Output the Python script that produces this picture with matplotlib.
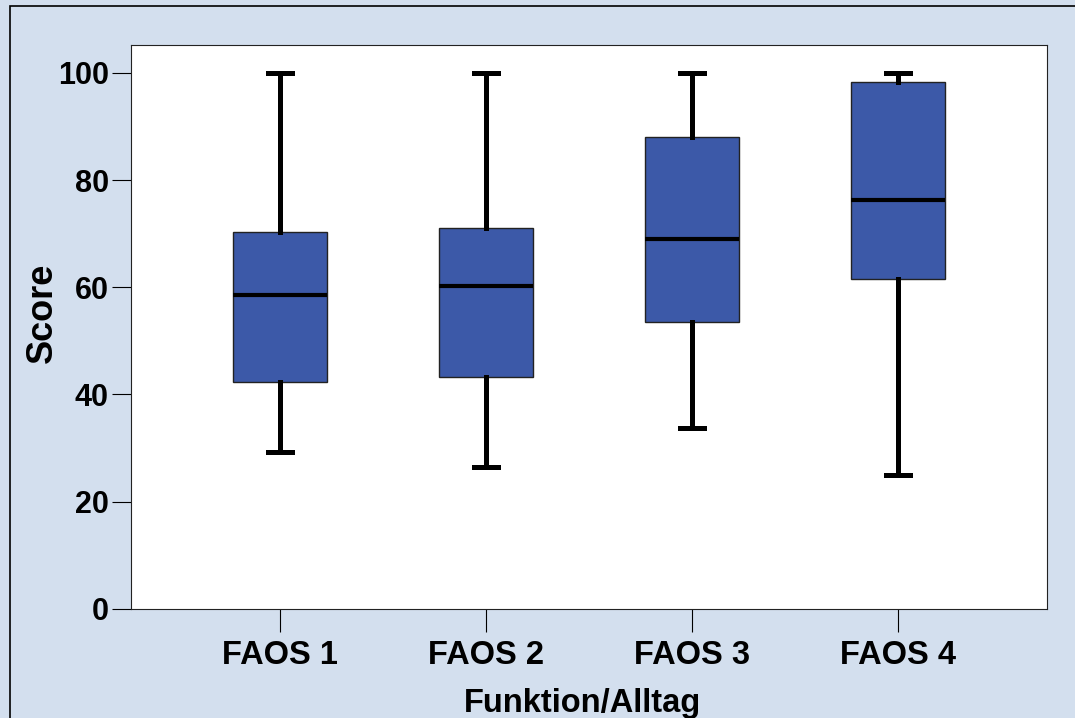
import matplotlib.pyplot as plt
from matplotlib.patches import Rectangle

labels = ["FAOS 1", "FAOS 2", "FAOS 3", "FAOS 4"]
whisker_low = [29.2, 26.4, 33.8, 24.9]
q1 = [42.4, 43.2, 53.5, 61.5]
median = [58.6, 60.2, 69.0, 76.2]
q3 = [70.3, 71.0, 88.0, 98.3]
whisker_high = [100, 100, 100, 100]

BG = "#D3DFEE"
BOX = "#3C59A8"
W, H = 1075, 718

plt.rcParams['font.family'] = ['Liberation Sans', 'DejaVu Sans']
plt.rcParams['font.weight'] = 'bold'

fig = plt.figure(figsize=(W / 100, H / 100), dpi=100, facecolor=BG)
# outer frame, cut off at the right and bottom like the original
fig.patches.append(Rectangle((10 / W, -0.1), 1.2, 1.1 - 6 / H,
                             transform=fig.transFigure, fill=False,
                             edgecolor="black", linewidth=1.2))

ax = fig.add_axes([131 / W, 1 - 608.7 / H, (1047 - 131) / W, (608.7 - 45) / H])
ax.set_facecolor("white")

stats = []
for i in range(len(labels)):
    stats.append({"whislo": whisker_low[i], "q1": q1[i], "med": median[i],
                  "q3": q3[i], "whishi": whisker_high[i], "fliers": []})

ax.bxp(stats, positions=range(1, 5), widths=0.46, patch_artist=True,
       showfliers=False, capwidths=0.115,
       boxprops=dict(facecolor=BOX, edgecolor="#222222", linewidth=1.0),
       medianprops=dict(color="black", linewidth=3.0),
       whiskerprops=dict(color="black", linewidth=3.6),
       capprops=dict(color="black", linewidth=3.6))

ax.set_xlim(0.277, 4.723)
ax.set_ylim(0, 105.2)
ax.set_yticks([0, 20, 40, 60, 80, 100])
ax.set_xticks(range(1, 5))
ax.set_xticklabels(labels)
ax.tick_params(axis="y", length=14, width=0.8, labelsize=22, pad=2)
ax.tick_params(axis="x", length=16.5, width=0.8, labelsize=23.5, pad=6)
for s in ax.spines.values():
    s.set_linewidth(0.8)
    s.set_color("#222222")

fig.text(42 / W, 1 - 313 / H, "Score", rotation=90, ha="center", va="center",
         fontsize=26, fontweight="bold")
fig.text(583 / W, 1 - 712 / H, "Funktion/Alltag", ha="center", va="baseline",
         fontsize=23.5, fontweight="bold")

fig.savefig("out.png", dpi=100, facecolor=BG)
